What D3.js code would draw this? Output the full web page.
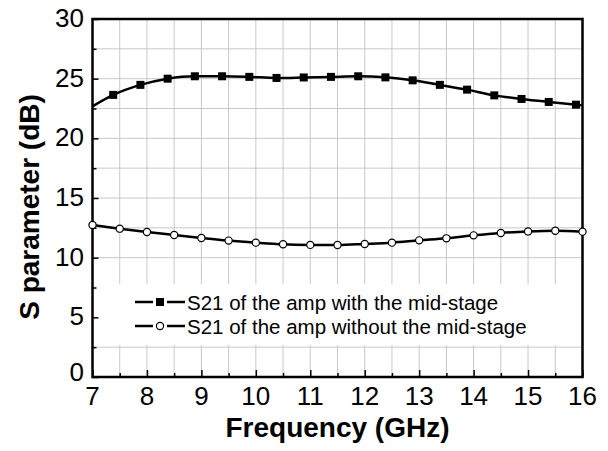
<!DOCTYPE html>
<html>
<head>
<meta charset="utf-8">
<script src="https://cdn.jsdelivr.net/npm/d3@7"></script>
<style>
  body { margin: 0; background: #fff; }
  svg { display: block; font-family: "Liberation Sans", Arial, sans-serif; }
</style>
</head>
<body>
<svg id="chart" width="608" height="451"></svg>
<script>
// series with the mid-stage (square markers)
var s1Freq = [7.38, 7.88, 8.38, 8.88, 9.38, 9.88, 10.38, 10.88, 11.38, 11.88, 12.38, 12.88, 13.38, 13.88, 14.38, 14.88, 15.38, 15.88];
var s1Gain = [23.64, 24.48, 25.0, 25.2, 25.2, 25.15, 25.06, 25.1, 25.15, 25.2, 25.11, 24.86, 24.48, 24.08, 23.6, 23.3, 23.05, 22.82];
// where the curve meets the frame (no marker there)
var s1EdgeFreq = [7, 16];
var s1EdgeGain = [22.68, 22.76];

// series without the mid-stage (circle markers)
var s2Freq = [7, 7.5, 8, 8.5, 9, 9.5, 10, 10.5, 11, 11.5, 12, 12.5, 13, 13.5, 14, 14.5, 15, 15.5, 16];
var s2Gain = [12.74, 12.43, 12.15, 11.9, 11.65, 11.43, 11.26, 11.12, 11.07, 11.06, 11.15, 11.26, 11.45, 11.62, 11.87, 12.07, 12.2, 12.26, 12.18];

var xTicks = [7, 8, 9, 10, 11, 12, 13, 14, 15, 16];
var xMinorTicks = [7.5, 8.5, 9.5, 10.5, 11.5, 12.5, 13.5, 14.5, 15.5];
var yTicks = [0, 5, 10, 15, 20, 25, 30];
var yMinorTicks = [2.5, 7.5, 12.5, 17.5, 22.5, 27.5];

var legendLabels = ['S21 of the amp with the mid-stage', 'S21 of the amp without the mid-stage'];

var margin = { left: 92.5, right: 25.5, top: 19, bottom: 74 };
var width = 608, height = 451;

var svg = d3.select('#chart');

var x = d3.scaleLinear().domain([7, 16]).range([margin.left, width - margin.right]);
var y = d3.scaleLinear().domain([0, 30]).range([height - margin.bottom, margin.top]);

// grid
var grid = svg.append('g').attr('stroke', '#c8c8c8').attr('stroke-width', 1);
grid.selectAll('.gx')
    .data(xTicks.concat(xMinorTicks))
    .enter().append('line')
    .attr('x1', function (d) { return x(d); })
    .attr('x2', function (d) { return x(d); })
    .attr('y1', y(0)).attr('y2', y(30));
grid.selectAll('.gy')
    .data(yTicks.concat(yMinorTicks))
    .enter().append('line')
    .attr('x1', x(7)).attr('x2', x(16))
    .attr('y1', function (d) { return y(d); })
    .attr('y2', function (d) { return y(d); });

// legend background hides the grid behind it
svg.append('rect')
    .attr('x', x(7)).attr('y', 284)
    .attr('width', x(16) - x(7)).attr('height', 61)
    .attr('fill', '#fff');

// axes with inward ticks
var xAxis = d3.axisTop(x).tickValues(xTicks).tickSize(7).tickFormat('');
var xAxisMinor = d3.axisTop(x).tickValues(xMinorTicks).tickSize(4).tickFormat('');
var yAxis = d3.axisRight(y).tickValues(yTicks).tickSize(6).tickFormat('');
var yAxisMinor = d3.axisRight(y).tickValues(yMinorTicks).tickSize(4).tickFormat('');

function styleAxis(g) {
    g.select('.domain').remove();
    g.selectAll('line').attr('stroke', '#000').attr('stroke-width', 1.5);
}

svg.append('g').attr('transform', 'translate(0,' + y(0) + ')').call(xAxis).call(styleAxis);
svg.append('g').attr('transform', 'translate(0,' + y(0) + ')').call(xAxisMinor).call(styleAxis);
svg.append('g').attr('transform', 'translate(' + x(7) + ',0)').call(yAxis).call(styleAxis);
svg.append('g').attr('transform', 'translate(' + x(7) + ',0)').call(yAxisMinor).call(styleAxis);

// tick labels
svg.append('g').selectAll('text')
    .data(xTicks)
    .enter().append('text')
    .attr('x', function (d) { return x(d); })
    .attr('y', 405)
    .attr('text-anchor', 'middle')
    .attr('font-size', 26)
    .text(function (d) { return d; });

svg.append('g').selectAll('text')
    .data(yTicks)
    .enter().append('text')
    .attr('x', 84)
    .attr('y', function (d) { return y(d) + (d === 0 ? -3 : 1); })
    .attr('text-anchor', 'end')
    .attr('dominant-baseline', 'middle')
    .attr('font-size', 26)
    .text(function (d) { return d; });

// frame
svg.append('rect')
    .attr('x', x(7)).attr('y', y(30))
    .attr('width', x(16) - x(7)).attr('height', y(0) - y(30))
    .attr('fill', 'none')
    .attr('stroke', '#000')
    .attr('stroke-width', 2.5);

// curves
var line = d3.line()
    .x(function (d) { return x(d[0]); })
    .y(function (d) { return y(d[1]); })
    .curve(d3.curveMonotoneX);

var s1Points = s1Freq.map(function (f, i) { return [f, s1Gain[i]]; });
var s1Line = [[s1EdgeFreq[0], s1EdgeGain[0]]].concat(s1Points, [[s1EdgeFreq[1], s1EdgeGain[1]]]);
var s2Points = s2Freq.map(function (f, i) { return [f, s2Gain[i]]; });

svg.append('path')
    .datum(s1Line)
    .attr('d', line)
    .attr('fill', 'none')
    .attr('stroke', '#000')
    .attr('stroke-width', 2.5);

svg.append('path')
    .datum(s2Points)
    .attr('d', line)
    .attr('fill', 'none')
    .attr('stroke', '#000')
    .attr('stroke-width', 2.5);

svg.append('g').selectAll('rect')
    .data(s1Points)
    .enter().append('rect')
    .attr('x', function (d) { return x(d[0]) - 4; })
    .attr('y', function (d) { return y(d[1]) - 4; })
    .attr('width', 8).attr('height', 8)
    .attr('fill', '#000');

svg.append('g').selectAll('circle')
    .data(s2Points)
    .enter().append('circle')
    .attr('cx', function (d) { return x(d[0]); })
    .attr('cy', function (d) { return y(d[1]); })
    .attr('r', 3.6)
    .attr('fill', '#fff')
    .attr('stroke', '#000')
    .attr('stroke-width', 1.2);

// legend
var legend = svg.append('g').selectAll('g')
    .data(legendLabels)
    .enter().append('g')
    .attr('transform', function (d, i) { return 'translate(0,' + (302 + i * 24) + ')'; });

legend.append('line')
    .attr('x1', 135).attr('x2', 153)
    .attr('stroke', '#000').attr('stroke-width', 2.5);
legend.append('line')
    .attr('x1', 167).attr('x2', 185)
    .attr('stroke', '#000').attr('stroke-width', 2.5);

legend.filter(function (d, i) { return i === 0; })
    .append('rect')
    .attr('x', 156).attr('y', -4)
    .attr('width', 8).attr('height', 8)
    .attr('fill', '#000');

legend.filter(function (d, i) { return i === 1; })
    .append('circle')
    .attr('cx', 160).attr('cy', 0).attr('r', 3.6)
    .attr('fill', '#fff')
    .attr('stroke', '#000')
    .attr('stroke-width', 1.2);

legend.append('text')
    .attr('x', 187)
    .attr('y', 7.5)
    .attr('font-size', 20.5)
    .text(function (d) { return d; });

// axis titles
svg.append('text')
    .attr('x', 337.5)
    .attr('y', 437)
    .attr('text-anchor', 'middle')
    .attr('font-size', 28)
    .attr('font-weight', 'bold')
    .text('Frequency (GHz)');

svg.append('text')
    .attr('transform', 'translate(39,207) rotate(-90)')
    .attr('text-anchor', 'middle')
    .attr('font-size', 28)
    .attr('font-weight', 'bold')
    .text('S parameter (dB)');
</script>
</body>
</html>
